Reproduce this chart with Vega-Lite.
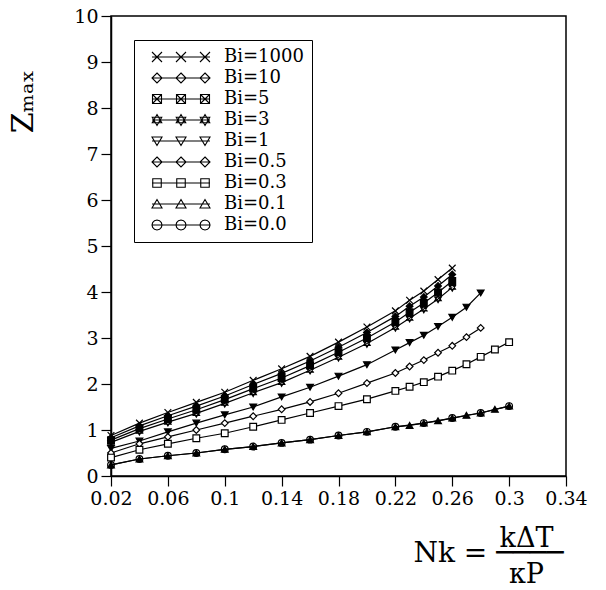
{
  "$schema": "https://vega.github.io/schema/vega-lite/v6.json",
  "width": 455,
  "height": 460,
  "autosize": "none",
  "padding": {"left": 111, "top": 16, "right": 40, "bottom": 114},
  "background": "white",
  "config": {
    "font": "DejaVu Serif",
    "view": {"stroke": "black", "strokeWidth": 1.5},
    "axis": {"grid": false, "domainColor": "black", "domainWidth": 1.5, "tickColor": "black", "tickWidth": 1.2, "labelColor": "black", "titleColor": "black", "labelFont": "DejaVu Serif", "titleFont": "DejaVu Serif", "titleFontWeight": "normal"}
  },
  "title": {"text": "Nk = ────", "orient": "bottom", "anchor": "middle", "frame": "group", "dx": 150, "offset": -47, "fontSize": 28, "fontWeight": "normal", "font": "DejaVu Serif", "color": "black"},
  "data": {"values": [
    {"Nk":0.02,"Z":0.88,"Bi":"1000"},{"Nk":0.04,"Z":1.15,"Bi":"1000"},{"Nk":0.06,"Z":1.38,"Bi":"1000"},{"Nk":0.08,"Z":1.60,"Bi":"1000"},{"Nk":0.10,"Z":1.82,"Bi":"1000"},{"Nk":0.12,"Z":2.08,"Bi":"1000"},{"Nk":0.14,"Z":2.33,"Bi":"1000"},{"Nk":0.16,"Z":2.60,"Bi":"1000"},{"Nk":0.18,"Z":2.91,"Bi":"1000"},{"Nk":0.20,"Z":3.24,"Bi":"1000"},{"Nk":0.22,"Z":3.59,"Bi":"1000"},{"Nk":0.23,"Z":3.82,"Bi":"1000"},{"Nk":0.24,"Z":4.02,"Bi":"1000"},{"Nk":0.25,"Z":4.27,"Bi":"1000"},{"Nk":0.26,"Z":4.52,"Bi":"1000"},
    {"Nk":0.02,"Z":0.83,"Bi":"10"},{"Nk":0.04,"Z":1.09,"Bi":"10"},{"Nk":0.06,"Z":1.31,"Bi":"10"},{"Nk":0.08,"Z":1.52,"Bi":"10"},{"Nk":0.10,"Z":1.74,"Bi":"10"},{"Nk":0.12,"Z":1.99,"Bi":"10"},{"Nk":0.14,"Z":2.23,"Bi":"10"},{"Nk":0.16,"Z":2.50,"Bi":"10"},{"Nk":0.18,"Z":2.80,"Bi":"10"},{"Nk":0.20,"Z":3.12,"Bi":"10"},{"Nk":0.22,"Z":3.47,"Bi":"10"},{"Nk":0.23,"Z":3.69,"Bi":"10"},{"Nk":0.24,"Z":3.89,"Bi":"10"},{"Nk":0.25,"Z":4.13,"Bi":"10"},{"Nk":0.26,"Z":4.38,"Bi":"10"},
    {"Nk":0.02,"Z":0.78,"Bi":"5"},{"Nk":0.04,"Z":1.03,"Bi":"5"},{"Nk":0.06,"Z":1.24,"Bi":"5"},{"Nk":0.08,"Z":1.44,"Bi":"5"},{"Nk":0.10,"Z":1.66,"Bi":"5"},{"Nk":0.12,"Z":1.90,"Bi":"5"},{"Nk":0.14,"Z":2.13,"Bi":"5"},{"Nk":0.16,"Z":2.40,"Bi":"5"},{"Nk":0.18,"Z":2.69,"Bi":"5"},{"Nk":0.20,"Z":3.00,"Bi":"5"},{"Nk":0.22,"Z":3.35,"Bi":"5"},{"Nk":0.23,"Z":3.56,"Bi":"5"},{"Nk":0.24,"Z":3.76,"Bi":"5"},{"Nk":0.25,"Z":3.99,"Bi":"5"},{"Nk":0.26,"Z":4.24,"Bi":"5"},
    {"Nk":0.02,"Z":0.73,"Bi":"3"},{"Nk":0.04,"Z":0.97,"Bi":"3"},{"Nk":0.06,"Z":1.17,"Bi":"3"},{"Nk":0.08,"Z":1.36,"Bi":"3"},{"Nk":0.10,"Z":1.58,"Bi":"3"},{"Nk":0.12,"Z":1.81,"Bi":"3"},{"Nk":0.14,"Z":2.03,"Bi":"3"},{"Nk":0.16,"Z":2.30,"Bi":"3"},{"Nk":0.18,"Z":2.58,"Bi":"3"},{"Nk":0.20,"Z":2.88,"Bi":"3"},{"Nk":0.22,"Z":3.23,"Bi":"3"},{"Nk":0.23,"Z":3.43,"Bi":"3"},{"Nk":0.24,"Z":3.63,"Bi":"3"},{"Nk":0.25,"Z":3.85,"Bi":"3"},{"Nk":0.26,"Z":4.10,"Bi":"3"},
    {"Nk":0.02,"Z":0.60,"Bi":"1"},{"Nk":0.04,"Z":0.76,"Bi":"1"},{"Nk":0.06,"Z":0.96,"Bi":"1"},{"Nk":0.08,"Z":1.15,"Bi":"1"},{"Nk":0.10,"Z":1.33,"Bi":"1"},{"Nk":0.12,"Z":1.50,"Bi":"1"},{"Nk":0.14,"Z":1.72,"Bi":"1"},{"Nk":0.16,"Z":1.93,"Bi":"1"},{"Nk":0.18,"Z":2.17,"Bi":"1"},{"Nk":0.20,"Z":2.42,"Bi":"1"},{"Nk":0.22,"Z":2.74,"Bi":"1"},{"Nk":0.23,"Z":2.90,"Bi":"1"},{"Nk":0.24,"Z":3.06,"Bi":"1"},{"Nk":0.25,"Z":3.25,"Bi":"1"},{"Nk":0.26,"Z":3.45,"Bi":"1"},{"Nk":0.27,"Z":3.67,"Bi":"1"},{"Nk":0.28,"Z":3.98,"Bi":"1"},
    {"Nk":0.02,"Z":0.50,"Bi":"0.5"},{"Nk":0.04,"Z":0.70,"Bi":"0.5"},{"Nk":0.06,"Z":0.85,"Bi":"0.5"},{"Nk":0.08,"Z":1.00,"Bi":"0.5"},{"Nk":0.10,"Z":1.15,"Bi":"0.5"},{"Nk":0.12,"Z":1.30,"Bi":"0.5"},{"Nk":0.14,"Z":1.45,"Bi":"0.5"},{"Nk":0.16,"Z":1.61,"Bi":"0.5"},{"Nk":0.18,"Z":1.80,"Bi":"0.5"},{"Nk":0.20,"Z":2.02,"Bi":"0.5"},{"Nk":0.22,"Z":2.24,"Bi":"0.5"},{"Nk":0.23,"Z":2.38,"Bi":"0.5"},{"Nk":0.24,"Z":2.52,"Bi":"0.5"},{"Nk":0.25,"Z":2.68,"Bi":"0.5"},{"Nk":0.26,"Z":2.83,"Bi":"0.5"},{"Nk":0.27,"Z":3.02,"Bi":"0.5"},{"Nk":0.28,"Z":3.22,"Bi":"0.5"},
    {"Nk":0.02,"Z":0.40,"Bi":"0.3"},{"Nk":0.04,"Z":0.57,"Bi":"0.3"},{"Nk":0.06,"Z":0.70,"Bi":"0.3"},{"Nk":0.08,"Z":0.82,"Bi":"0.3"},{"Nk":0.10,"Z":0.93,"Bi":"0.3"},{"Nk":0.12,"Z":1.07,"Bi":"0.3"},{"Nk":0.14,"Z":1.22,"Bi":"0.3"},{"Nk":0.16,"Z":1.37,"Bi":"0.3"},{"Nk":0.18,"Z":1.52,"Bi":"0.3"},{"Nk":0.20,"Z":1.67,"Bi":"0.3"},{"Nk":0.22,"Z":1.85,"Bi":"0.3"},{"Nk":0.23,"Z":1.94,"Bi":"0.3"},{"Nk":0.24,"Z":2.04,"Bi":"0.3"},{"Nk":0.25,"Z":2.16,"Bi":"0.3"},{"Nk":0.26,"Z":2.29,"Bi":"0.3"},{"Nk":0.27,"Z":2.43,"Bi":"0.3"},{"Nk":0.28,"Z":2.59,"Bi":"0.3"},{"Nk":0.29,"Z":2.75,"Bi":"0.3"},{"Nk":0.30,"Z":2.91,"Bi":"0.3"},
    {"Nk":0.02,"Z":0.24,"Bi":"0.1"},{"Nk":0.04,"Z":0.37,"Bi":"0.1"},{"Nk":0.06,"Z":0.44,"Bi":"0.1"},{"Nk":0.08,"Z":0.50,"Bi":"0.1"},{"Nk":0.10,"Z":0.58,"Bi":"0.1"},{"Nk":0.12,"Z":0.64,"Bi":"0.1"},{"Nk":0.14,"Z":0.72,"Bi":"0.1"},{"Nk":0.16,"Z":0.79,"Bi":"0.1"},{"Nk":0.18,"Z":0.88,"Bi":"0.1"},{"Nk":0.20,"Z":0.96,"Bi":"0.1"},{"Nk":0.22,"Z":1.07,"Bi":"0.1"},{"Nk":0.23,"Z":1.10,"Bi":"0.1"},{"Nk":0.24,"Z":1.15,"Bi":"0.1"},{"Nk":0.25,"Z":1.20,"Bi":"0.1"},{"Nk":0.26,"Z":1.26,"Bi":"0.1"},{"Nk":0.27,"Z":1.32,"Bi":"0.1"},{"Nk":0.28,"Z":1.37,"Bi":"0.1"},{"Nk":0.29,"Z":1.45,"Bi":"0.1"},{"Nk":0.30,"Z":1.52,"Bi":"0.1"},
    {"Nk":0.02,"Z":0.24,"Bi":"0.0"},{"Nk":0.04,"Z":0.37,"Bi":"0.0"},{"Nk":0.06,"Z":0.44,"Bi":"0.0"},{"Nk":0.08,"Z":0.50,"Bi":"0.0"},{"Nk":0.10,"Z":0.58,"Bi":"0.0"},{"Nk":0.12,"Z":0.64,"Bi":"0.0"},{"Nk":0.14,"Z":0.72,"Bi":"0.0"},{"Nk":0.16,"Z":0.79,"Bi":"0.0"},{"Nk":0.18,"Z":0.88,"Bi":"0.0"},{"Nk":0.20,"Z":0.96,"Bi":"0.0"},{"Nk":0.22,"Z":1.07,"Bi":"0.0"},{"Nk":0.24,"Z":1.15,"Bi":"0.0"},{"Nk":0.26,"Z":1.26,"Bi":"0.0"},{"Nk":0.28,"Z":1.37,"Bi":"0.0"},{"Nk":0.30,"Z":1.52,"Bi":"0.0"}
  ]},
  "encoding": {
    "x": {"field": "Nk", "type": "quantitative", "scale": {"domain": [0.02, 0.34], "nice": false, "zero": false},
      "axis": {"values": [0.02,0.06,0.1,0.14,0.18,0.22,0.26,0.3,0.34], "format": ".2~f", "labelFontSize": 19, "tickSize": 10, "labelPadding": 3, "labelFlush": false,
        "title": ["kΔT", "κP"], "titleFontSize": 27, "titleLineHeight": 36, "titleX": 415, "titleY": 70, "titleAlign": "center", "titleBaseline": "alphabetic"}},
    "y": {"field": "Z", "type": "quantitative", "scale": {"domain": [0, 10], "nice": false},
      "axis": {"values": [0,1,2,3,4,5,6,7,8,9,10], "labelFontSize": 19, "tickSize": 10, "labelPadding": 3,
        "title": "Zₘₐₓ", "titleFontSize": 30, "titleX": -88, "titleY": 85, "titleAngle": -90, "titleAlign": "center", "titleBaseline": "middle"}}
  },
  "layer": [
    {"mark": {"type": "line", "color": "black", "strokeWidth": 1.2}, "encoding": {"detail": {"field": "Bi"}}},
    {"mark": {"type": "point", "filled": false, "color": "black", "strokeWidth": 1.2, "size": 45, "opacity": 1},
      "encoding": {
        "shape": {"field": "Bi", "type": "nominal", "legend": null,
          "scale": {"domain": ["1000","10","5","3","1","0.5","0.3","0.1","0.0"],
            "range": ["M-1,-1L1,1M-1,1L1,-1", "diamond", "M-1,-1H1V1H-1ZM-1,-1L1,1M-1,1L1,-1", "M0,-1.1L0.95,0.55L-0.95,0.55ZM0,1.1L0.95,-0.55L-0.95,-0.55Z", "triangle-down", "diamond", "square", "triangle-up", "circle"]}},
        "fill": {"field": "Bi", "type": "nominal", "legend": null,
          "scale": {"domain": ["1000","10","5","3","1","0.5","0.3","0.1","0.0"],
            "range": ["black", "black", "black", "black", "black", "white", "white", "black", "transparent"]}}
      }},
    {"mark": {"type": "point", "filled": false, "color": "black", "opacity": 0},
      "encoding": {"shape": {"field": "Bi", "type": "nominal",
        "scale": {"domain": ["1000","10","5","3","1","0.5","0.3","0.1","0.0"],
          "range": [
            "M-5.8,0L5.8,0M-5.8,-1L-3.8,1M-5.8,1L-3.8,-1M-1,-1L1,1M-1,1L1,-1M3.8,-1L5.8,1M3.8,1L5.8,-1",
            "M-5.8,0L5.8,0M-4.8,-1L-3.8,0L-4.8,1L-5.8,0ZM0,-1L1,0L0,1L-1,0ZM4.8,-1L5.8,0L4.8,1L3.8,0Z",
            "M-5.8,0L5.8,0M-5.7,-0.9H-3.9V0.9H-5.7ZM-5.7,-0.9L-3.9,0.9M-5.7,0.9L-3.9,-0.9M-0.9,-0.9H0.9V0.9H-0.9ZM-0.9,-0.9L0.9,0.9M-0.9,0.9L0.9,-0.9M3.9,-0.9H5.7V0.9H3.9ZM3.9,-0.9L5.7,0.9M3.9,0.9L5.7,-0.9",
            "M-5.8,0L5.8,0M-4.8,-1.1L-3.85,0.55L-5.75,0.55ZM-4.8,1.1L-3.85,-0.55L-5.75,-0.55ZM0,-1.1L0.95,0.55L-0.95,0.55ZM0,1.1L0.95,-0.55L-0.95,-0.55ZM4.8,-1.1L5.75,0.55L3.85,0.55ZM4.8,1.1L5.75,-0.55L3.85,-0.55Z",
            "M-5.8,0L5.8,0M-5.8,-0.8L-3.8,-0.8L-4.8,0.9ZM-1,-0.8L1,-0.8L0,0.9ZM3.8,-0.8L5.8,-0.8L4.8,0.9Z",
            "M-5.8,0L5.8,0M-4.8,-1L-3.8,0L-4.8,1L-5.8,0ZM0,-1L1,0L0,1L-1,0ZM4.8,-1L5.8,0L4.8,1L3.8,0Z",
            "M-5.8,0L5.8,0M-5.65,-0.85H-3.95V0.85H-5.65ZM-0.85,-0.85H0.85V0.85H-0.85ZM3.95,-0.85H5.65V0.85H3.95Z",
            "M-5.8,0L5.8,0M-5.8,0.8L-3.8,0.8L-4.8,-0.9ZM-1,0.8L1,0.8L0,-0.9ZM3.8,0.8L5.8,0.8L4.8,-0.9Z",
            "M-5.8,0L5.8,0M-3.8,0L-3.934,0.5L-4.3,0.866L-4.8,1L-5.3,0.866L-5.666,0.5L-5.8,0L-5.666,-0.5L-5.3,-0.866L-4.8,-1L-4.3,-0.866L-3.934,-0.5ZM1,0L0.866,0.5L0.5,0.866L0,1L-0.5,0.866L-0.866,0.5L-1,0L-0.866,-0.5L-0.5,-0.866L0,-1L0.5,-0.866L0.866,-0.5ZM5.8,0L5.666,0.5L5.3,0.866L4.8,1L4.3,0.866L3.934,0.5L3.8,0L3.934,-0.5L4.3,-0.866L4.8,-1L5.3,-0.866L5.666,-0.5Z"
          ]},
        "legend": {"orient": "none", "legendX": 23, "legendY": 24, "title": null, "strokeColor": "black", "padding": 8,
          "symbolSize": 100, "symbolOpacity": 1, "symbolStrokeColor": "black", "symbolFillColor": "transparent", "symbolStrokeWidth": 1.1,
          "symbolOffset": 30, "labelOffset": 34, "labelFontSize": 18, "labelFont": "DejaVu Serif", "labelColor": "black", "rowPadding": 3,
          "labelExpr": "'Bi=' + datum.label"}}}}
  ],
  "resolve": {"scale": {"shape": "independent"}}
}
